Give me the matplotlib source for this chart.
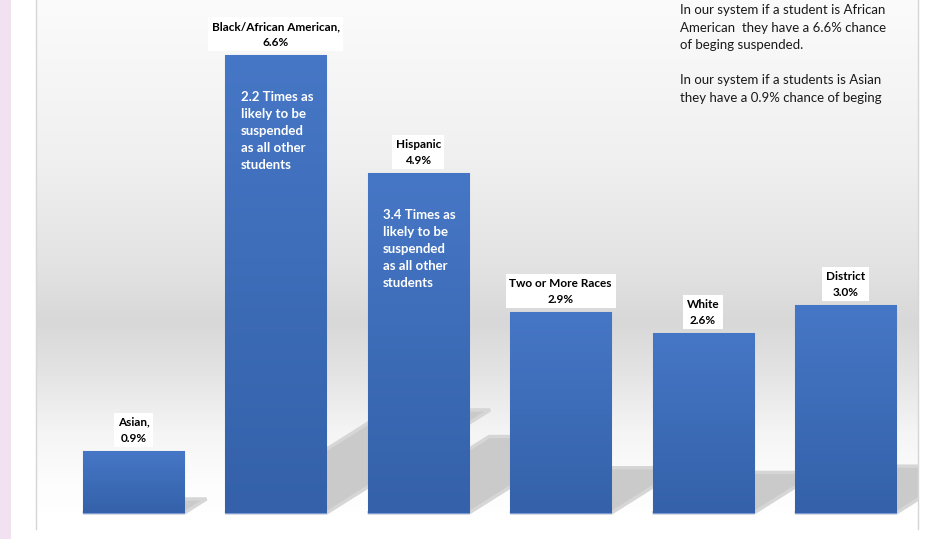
import numpy as np
import matplotlib
matplotlib.use("Agg")
import matplotlib.pyplot as plt
from matplotlib.colors import LinearSegmentedColormap
from matplotlib.patches import Polygon, Rectangle

# ===== data =====
groups = ["Asian", "Black/African American", "Hispanic",
          "Two or More Races", "White", "District"]
rates = [0.9, 6.6, 4.9, 2.9, 2.6, 3.0]
bar_labels = ["Asian,\n0.9%", "Black/African American,\n6.6%", "Hispanic\n4.9%",
              "Two or More Races\n2.9%", "White\n2.6%", "District\n3.0%"]
inner_notes = {1: "2.2 Times as\nlikely to be\nsuspended\nas all other\nstudents",
               2: "3.4 Times as\nlikely to be\nsuspended\nas all other\nstudents"}
side_note = ("In our system if a student is African\n"
             "American  they have a 6.6% chance\n"
             "of beging suspended.\n\n"
             "In our system if a students is Asian\n"
             "they have a 0.9% chance of beging")

plt.rcParams["font.family"] = ["Lato", "DejaVu Sans"]

W, H = 930, 539
fig = plt.figure(figsize=(W / 100, H / 100), dpi=100)
fig.patch.set_facecolor("white")
# pink strip at the left edge
fig.patches.append(Rectangle((0, 0), 11 / W, 1, transform=fig.transFigure,
                             facecolor="#f2e2f1", edgecolor="none"))

ax = fig.add_axes([36 / W, 1 - 529 / H, (918 - 36) / W, 529 / H])
ax.set_xticks([])
ax.set_yticks([])
for s in ["top", "bottom"]:
    ax.spines[s].set_visible(False)
for s in ["left", "right"]:
    ax.spines[s].set_color("#d6d6d6")
    ax.spines[s].set_linewidth(1.0)

# background gradient (white -> grey -> white), top to bottom
stops = [(0.0, "#fbfbfb"), (0.3, "#f0f0f0"), (0.5, "#e3e3e3"),
         (0.61, "#d8d8d8"), (0.7, "#e3e3e3"), (0.82, "#f5f5f5"),
         (0.92, "#fdfdfd"), (1.0, "#ffffff")]
bg_cmap = LinearSegmentedColormap.from_list("bg", stops)
grad = np.linspace(0, 1, 256).reshape(-1, 1)
ax.imshow(grad, cmap=bg_cmap, aspect="auto", extent=[0, 1, 0, 1],
          transform=ax.transAxes, zorder=0, vmin=0, vmax=1)
# white strip below the baseline
ax.axhspan(-0.23, 0, color="white", zorder=0.5)

x = np.arange(len(groups))
width = 0.71

# perspective shadows (skewed projections of each bar)
sx, sy = 0.174, 0.225
for xi, h in zip(x, rates):
    xl, xr = xi - width / 2, xi + width / 2
    pts = [(xl, 0), (xr, 0), (xr + sx * h, sy * h), (xl + sx * h, sy * h)]
    ax.add_patch(Polygon(pts, closed=True, facecolor="#cacaca",
                         edgecolor="#d6d6d6", lw=2.5, zorder=1))

bars = ax.bar(x, rates, width=width, color="#3f6fbf", edgecolor="#7a9bd6",
              linewidth=0.8, zorder=2)

# vertical gradient in each bar
bar_cmap = LinearSegmentedColormap.from_list("bar", ["#3461a9", "#4677c6"])
for b in bars:
    bx, by = b.get_x(), b.get_y()
    bw, bh = b.get_width(), b.get_height()
    im = ax.imshow(np.linspace(0, 1, 128).reshape(-1, 1), cmap=bar_cmap,
                   aspect="auto", origin="lower",
                   extent=[bx, bx + bw, by, by + bh], zorder=2.5)
    im.set_clip_path(b)

ax.set_xlim(-0.685, 5.509)
ax.set_ylim(-0.23, 7.39)

# labels above bars
for xi, h, lab in zip(x, rates, bar_labels):
    ax.annotate(lab, (xi, h), xytext=(0, 5), textcoords="offset points",
                ha="center", va="bottom", fontsize=8.5, fontweight="bold",
                color="black", linespacing=1.55, zorder=4,
                bbox=dict(boxstyle="square,pad=0.3", fc="white", ec="none"))

# notes inside tall bars
for i, txt in inner_notes.items():
    ax.annotate(txt, (x[i] - width / 2, rates[i]), xytext=(11, -26),
                textcoords="offset points", ha="left", va="top",
                fontsize=9.5, fontweight="bold", color="white",
                linespacing=1.5, zorder=4)

fig.text(680 / W, 1 - 4 / H, side_note, ha="left", va="top", fontsize=9.5,
         color="#1a1a1a", linespacing=1.55)

fig.savefig("out.png", dpi=100, facecolor="white")
